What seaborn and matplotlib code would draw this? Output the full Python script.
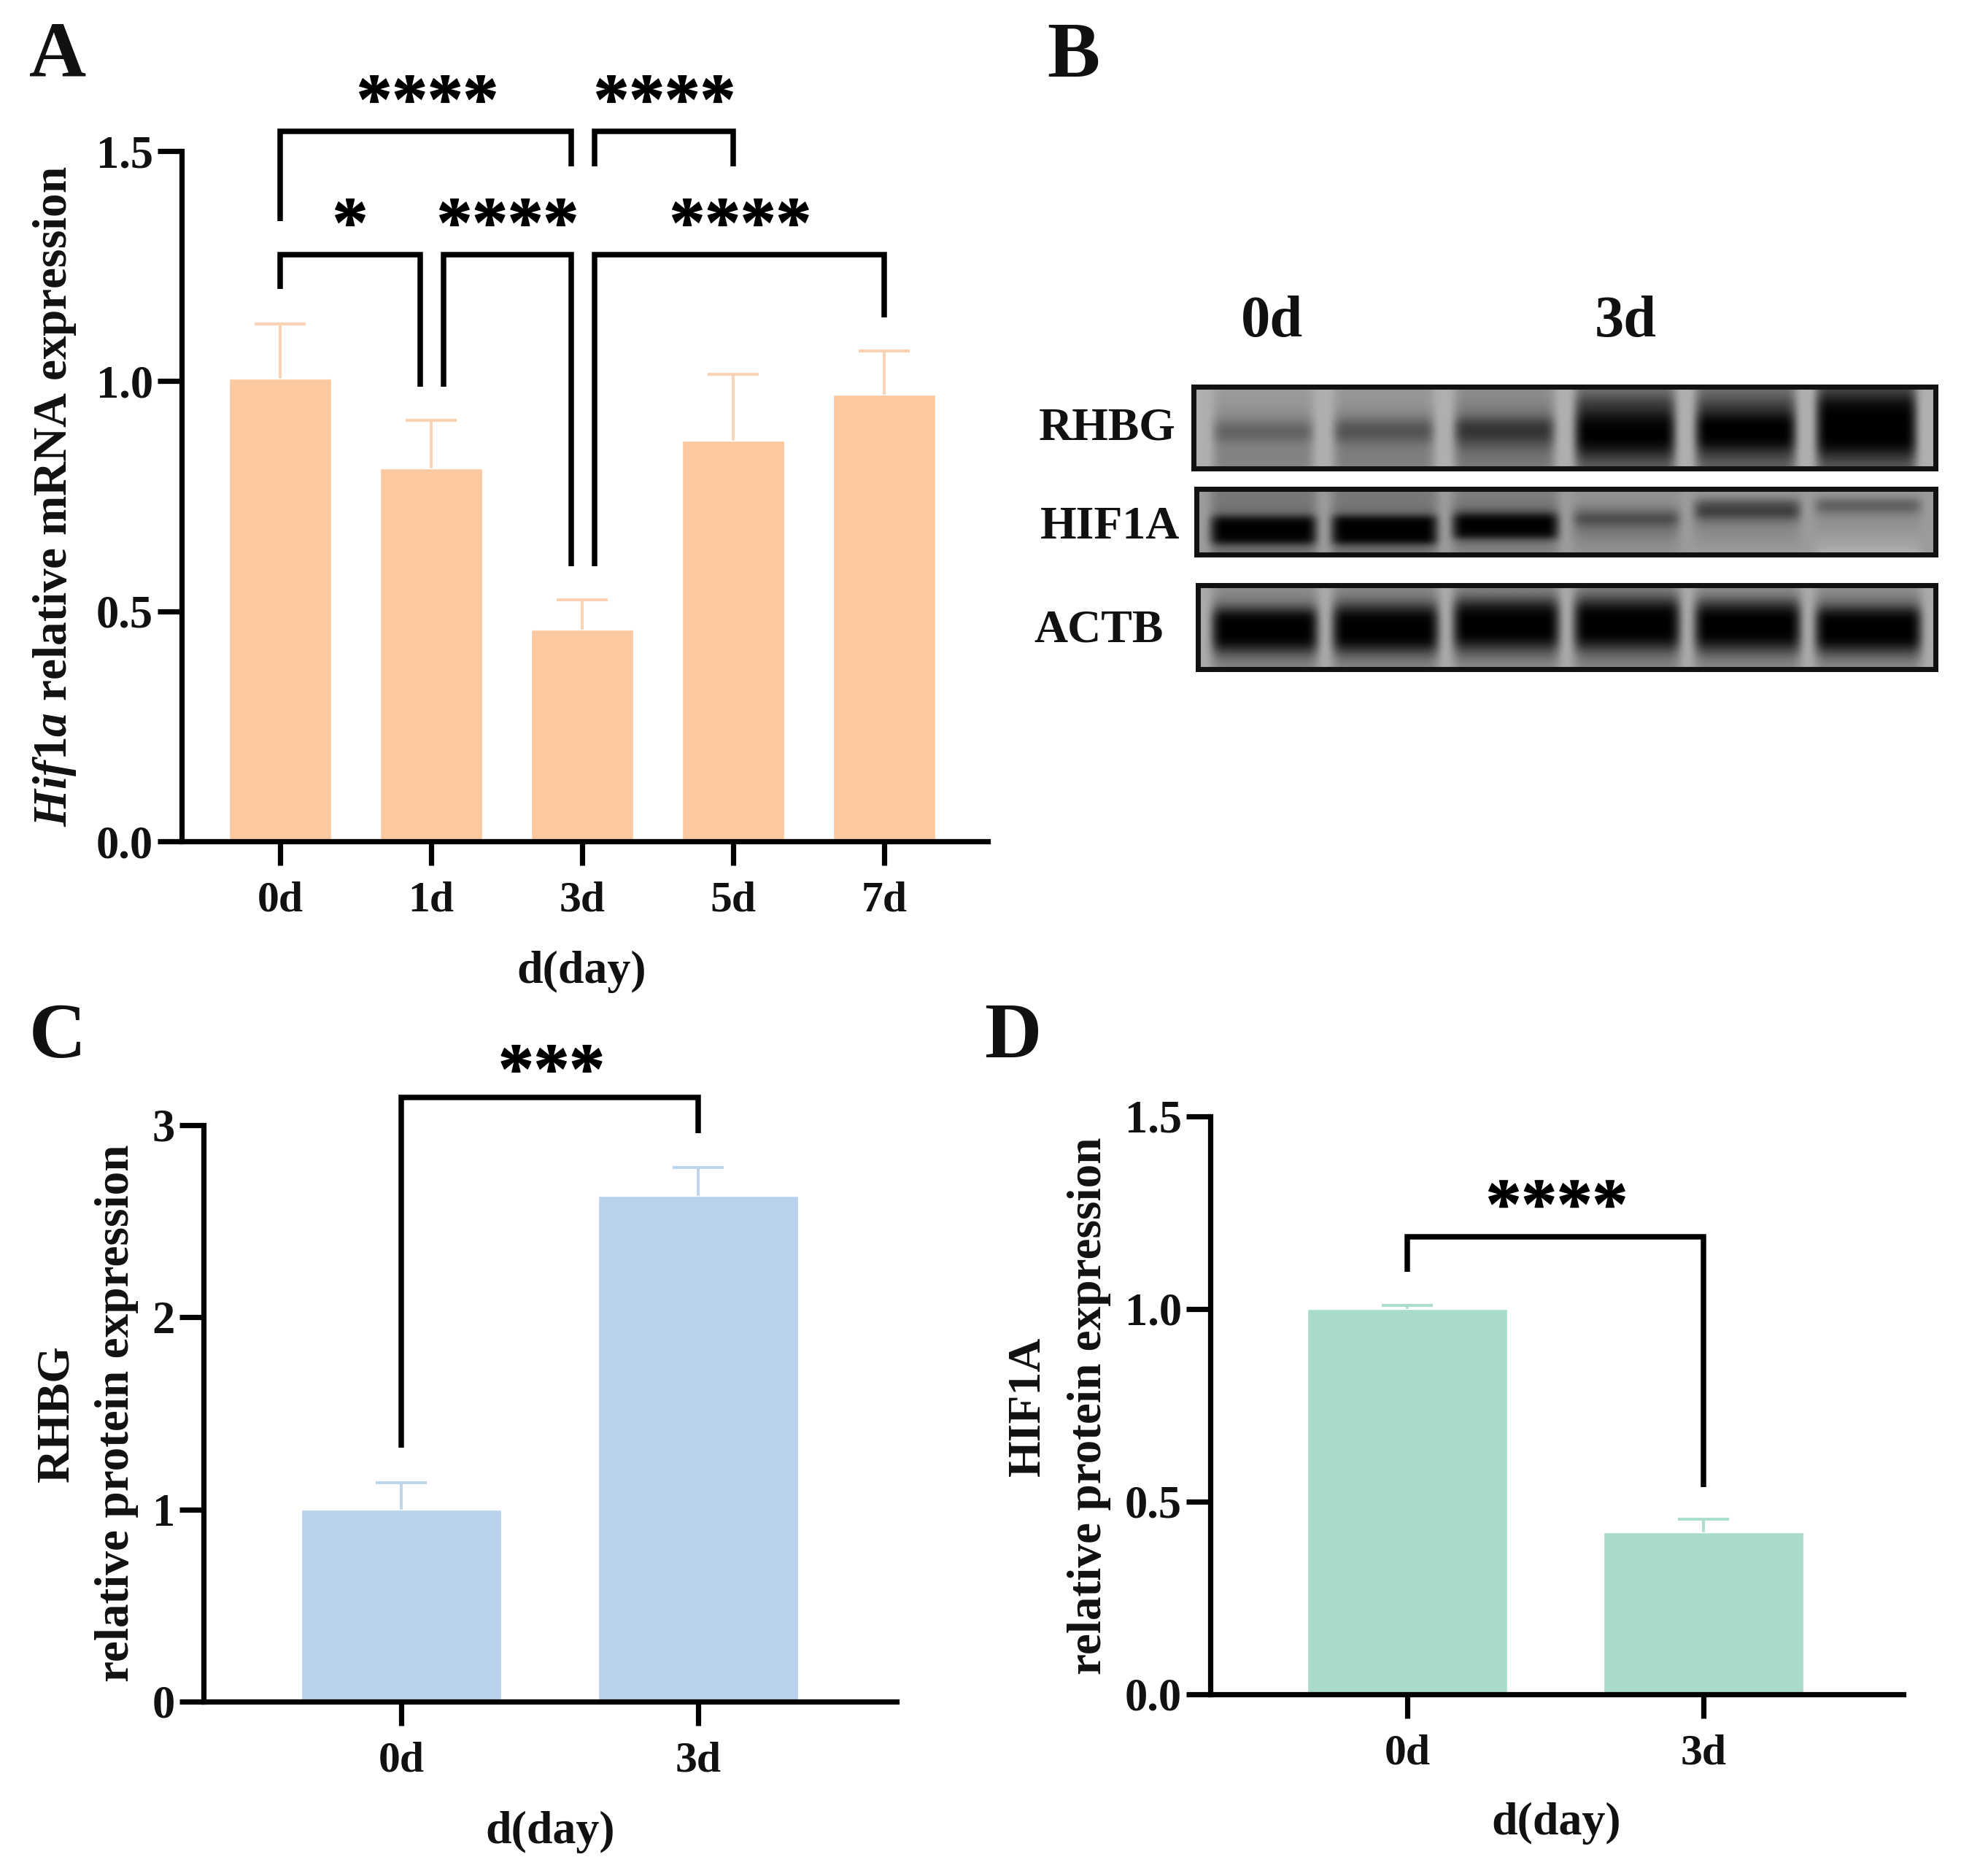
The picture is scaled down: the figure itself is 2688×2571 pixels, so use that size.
import numpy as np
import pandas as pd
import matplotlib
matplotlib.use("Agg")
import matplotlib.pyplot as plt
import matplotlib.patheffects as pe
import seaborn as sns

W, H = 2688, 2571

# ── Panel A
days_a = ["0d", "1d", "3d", "5d", "7d"]
mean_a = [1.005, 0.81, 0.46, 0.87, 0.97]
top_a = [1.125, 0.915, 0.525, 1.015, 1.065]
# x left, x right, top, left leg end, right leg end
brackets_a = [
    (0.0, 1.93, 1.543, 1.348, 1.467),
    (2.08, 3.0, 1.543, 1.467, 1.467),
    (0.0, 0.93, 1.275, 1.200, 0.988),
    (1.08, 1.93, 1.275, 0.988, 0.598),
    (2.08, 4.0, 1.275, 0.598, 1.138),
]
stars_a = [(0.976, 1.562, "****"), (2.546, 1.562, "****"), (0.464, 1.294, "*"),
           (1.507, 1.294, "****"), (3.048, 1.294, "****")]

# ── Panel C
days_c = ["0d", "3d"]
mean_c = [1.0, 2.63]
top_c = [1.14, 2.78]
brackets_c = [(0.0, 1.0, 3.145, 1.32, 2.96)]
stars_c = [(0.506, 3.172, "***")]

# ── Panel D
days_d = ["0d", "3d"]
mean_d = [1.0, 0.42]
top_d = [1.01, 0.455]
brackets_d = [(0.0, 1.0, 1.1875, 1.097, 0.538)]
stars_d = [(0.505, 1.212, "****")]

# ── Panel B: grey levels read per lane, top to bottom
rhbg_lanes = [
    [155, 152, 150, 145, 135, 115, 95, 105, 125, 130, 130, 132],
    [150, 150, 147, 140, 125, 95, 80, 90, 115, 125, 125, 128],
    [140, 138, 132, 122, 100, 60, 50, 60, 85, 105, 115, 120],
    [110, 90, 60, 45, 20, 5, 0, 0, 10, 35, 65, 90],
    [110, 95, 70, 50, 20, 0, 0, 0, 15, 50, 75, 95],
    [70, 45, 15, 5, 0, 0, 0, 0, 5, 30, 60, 85],
]
hif1a_lanes = [
    [120, 120, 118, 115, 100, 20, 0, 0, 0, 15, 95, 115],
    [120, 120, 118, 115, 95, 10, 0, 0, 0, 10, 95, 115],
    [125, 125, 120, 110, 60, 0, 0, 0, 15, 100, 125, 130],
    [145, 145, 140, 125, 95, 70, 95, 115, 125, 135, 140, 145],
    [150, 135, 90, 65, 60, 100, 125, 135, 140, 145, 150, 155],
    [155, 135, 100, 95, 125, 140, 145, 150, 155, 160, 165, 175],
]
actb_lanes = [
    [140, 132, 112, 60, 5, 0, 0, 0, 20, 70, 110, 130],
    [135, 122, 90, 40, 5, 0, 0, 0, 20, 70, 110, 130],
    [128, 105, 55, 15, 0, 0, 0, 5, 40, 85, 115, 135],
    [125, 95, 50, 10, 0, 0, 0, 5, 40, 85, 115, 130],
    [138, 118, 70, 25, 0, 0, 0, 5, 35, 80, 115, 135],
    [142, 128, 105, 50, 5, 0, 0, 0, 20, 70, 110, 135],
]
gap_levels = {"RHBG": 175, "HIF1A": 155, "ACTB": 170}
gap_widths = {"RHBG": 3, "HIF1A": 2, "ACTB": 2}

sns.set_theme(style="white")
plt.rcParams["font.family"] = ["Liberation Serif", "DejaVu Serif"]
plt.rcParams["font.weight"] = "bold"
plt.rcParams["mathtext.fontset"] = "custom"
plt.rcParams["mathtext.it"] = "Liberation Serif:italic:bold"
plt.rcParams["mathtext.rm"] = "Liberation Serif:bold"

fig = plt.figure(figsize=(W / 100, H / 100), dpi=100, facecolor="white")


def px_axes(left, top, right, bottom):
    return fig.add_axes([left / W, 1 - bottom / H, (right - left) / W, (bottom - top) / H])


def px_text(x, y, s, **kw):
    fig.text(x / W, 1 - y / H, s, ha="center", va="center", color="#111111", **kw)


def bar_panel(box, days, means, tops, color, err_color, xlim, ylim, yticks, ylabels,
              brackets, stars):
    ax = px_axes(*box)
    df = pd.DataFrame({"day": days, "mean": means})
    sns.barplot(data=df, x="day", y="mean", color=color, saturation=1, width=0.675, ax=ax, zorder=2)
    eb = ax.errorbar(range(len(days)), means, yerr=[np.zeros(len(days)), np.array(tops) - np.array(means)],
                     fmt="none", ecolor=err_color, elinewidth=2.8, capsize=25, capthick=3, zorder=1)
    eb[1][0].set_visible(False)  # only the upper cap
    ax.set_xlim(*xlim)
    ax.set_ylim(*ylim)
    ax.set_yticks(yticks)
    ax.set_yticklabels(ylabels)
    ax.set_xlabel("")
    ax.set_ylabel("")
    sns.despine(ax=ax)
    for side in ["left", "bottom"]:
        ax.spines[side].set_linewidth(5.2)
        ax.spines[side].set_color("black")
        ax.spines[side].set_zorder(5)
    ax.tick_params(axis="both", length=24, width=5.2, color="black", labelcolor="#111111",
                   bottom=True, left=True)
    ax.tick_params(axis="x", labelsize=43, pad=15)
    ax.tick_params(axis="y", labelsize=45, pad=4)
    for x0, x1, y, y0, y1 in brackets:
        ax.plot([x0, x0, x1, x1], [y0, y, y, y1], color="black", lw=5.4, clip_on=False,
                solid_joinstyle="miter", solid_capstyle="butt", zorder=6)
    for x, y, s in stars:
        ax.text(x, y, s, ha="center", va="baseline", fontsize=70, color="black", clip_on=False,
                path_effects=[pe.withStroke(linewidth=1, foreground="black")])
    return ax


bar_panel((249, 207, 1354, 1153), days_a, mean_a, top_a, "#FBC8A0", "#FBD3B4",
          (-0.652, 4.686), (0, 1.5), [0, 0.5, 1.0, 1.5], ["0.0", "0.5", "1.0", "1.5"],
          brackets_a, stars_a)
bar_panel((279, 1542, 1229, 2332), days_c, mean_c, top_c, "#B8D2EE", "#BDD5EF",
          (-0.666, 1.668), (0, 3), [0, 1, 2, 3], ["0", "1", "2", "3"],
          brackets_c, stars_c)
bar_panel((1659, 1530, 2609, 2322), days_d, mean_d, top_d, "#A8DBCB", "#ACDDCE",
          (-0.665, 1.675), (0, 1.5), [0, 0.5, 1.0, 1.5], ["0.0", "0.5", "1.0", "1.5"],
          brackets_d, stars_d)


def blot(box, lanes, gap, gap_width):
    ax = px_axes(*box)
    n_rows = len(lanes[0])
    gap_col = np.full((n_rows, gap_width), gap)
    cols = [gap_col]
    for lane in lanes:
        lane = np.repeat(np.array(lane, dtype=float)[:, None], 16, axis=1)
        # soften the lane edges a little so that the bands end rounded
        lane[:, [0, -1]] = lane[:, [0, -1]] * 0.7 + gap * 0.3
        cols.append(lane)
        cols.append(gap_col)
    ax.imshow(np.hstack(cols), cmap="gray", vmin=0, vmax=255, aspect="auto", interpolation="bicubic")
    ax.set_xticks([])
    ax.set_yticks([])
    for sp in ax.spines.values():
        sp.set_visible(True)
        sp.set_linewidth(5)
        sp.set_color("#111111")


blot((1636, 530, 2653, 642), rhbg_lanes, gap_levels["RHBG"], gap_widths["RHBG"])
blot((1640, 670, 2653, 760), hif1a_lanes, gap_levels["HIF1A"], gap_widths["HIF1A"])
blot((1642, 802, 2653, 917), actb_lanes, gap_levels["ACTB"], gap_widths["ACTB"])

# ── Text placed by hand
for s, x, y in [("A", 79, 79), ("B", 1471, 79), ("C", 79, 1423), ("D", 1388, 1423)]:
    px_text(x, y, s, fontsize=78)
for s, x, y in [("0d", 1743, 442), ("3d", 2228, 442)]:
    px_text(x, y, s, fontsize=58)
for s, x, y in [("RHBG", 1518, 587), ("HIF1A", 1522, 723), ("ACTB", 1506, 865)]:
    px_text(x, y, s, fontsize=46)
for x, y in [(797, 1332), (754, 2511), (2133, 2499)]:
    px_text(x, y, "d(day)", fontsize=46)

px_text(75, 680, r"$\mathit{Hif1a}$ relative mRNA expression", fontsize=47, rotation=90)
px_text(78, 1937, "RHBG", fontsize=46, rotation=90)
px_text(160, 1937, "relative protein expression", fontsize=47, rotation=90)
px_text(1410, 1927, "HIF1A", fontsize=46, rotation=90)
px_text(1493, 1927, "relative protein expression", fontsize=47, rotation=90)

fig.savefig("out.png", dpi=100, facecolor="white")
